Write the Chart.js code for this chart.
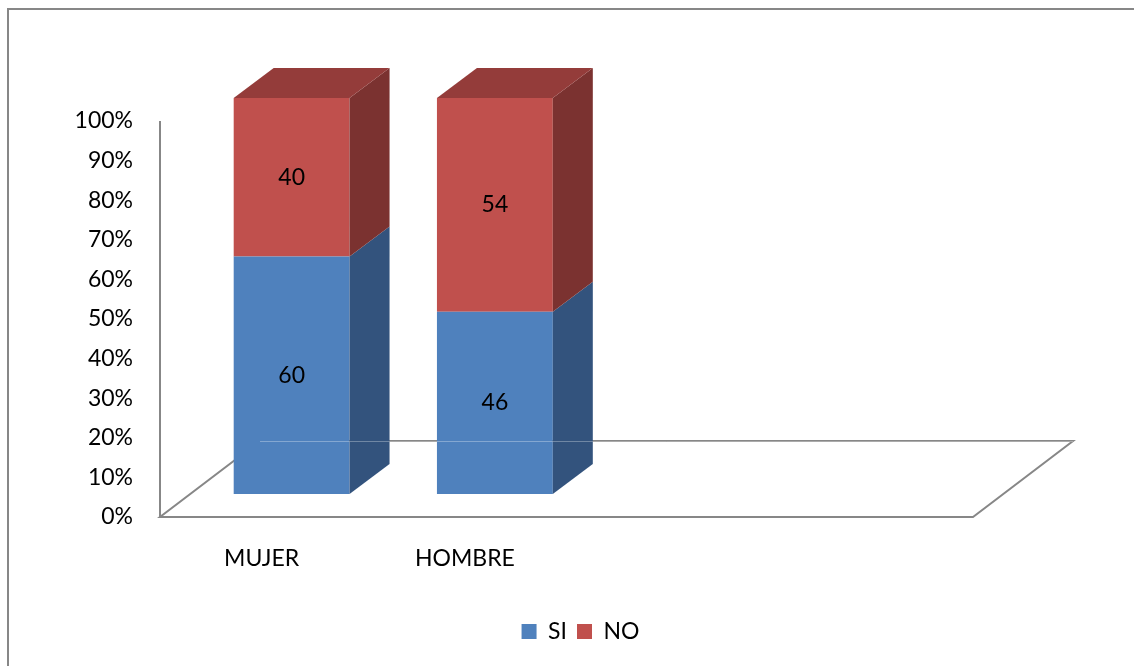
<!DOCTYPE html>
<html>
<head>
<meta charset="utf-8">
<script src="https://cdn.jsdelivr.net/npm/chart.js@4/dist/chart.umd.min.js"></script>
<style>
  body{margin:0;background:#fff;}
  #wrap{width:1134px;height:666px;}
</style>
</head>
<body>
<div id="wrap"><canvas id="chart" width="1134" height="666"></canvas></div>
<script>
'use strict';

// data
let categories=['MUJER','HOMBRE','',''];
let seriesNames=['SI','NO'];
let siValues=[60,46,null,null];
let noValues=[40,54,null,null];
let yTicks=[0,10,20,30,40,50,60,70,80,90,100];

let frontColors=['#4F81BD','#C0504D'];
let sideColors=['#33537D','#7B3230'];
let topColors=['#3E6696','#943C3A'];

// 3d look
let floorDepth={dx:100,dy:-76};
let barShift={dx:30,dy:-23};
let barDepth={dx:40,dy:-30};
let lineGray='#878787';
let legendShift=64;

let canvasElem=document.getElementById('chart');

let threeD={
    id:'threeD',
    afterLayout(chart){
        // legend sits a bit right of the plot centre in the original
        if(chart.legend){
            chart.legend.left+=legendShift;
            chart.legend.right+=legendShift;
        }
    },
    beforeDatasetsDraw(chart){
        let ctx=chart.ctx;
        let a=chart.chartArea;
        ctx.save();
        // outer frame
        ctx.strokeStyle=lineGray;
        ctx.lineWidth=2;
        ctx.beginPath();
        ctx.moveTo(8,666);
        ctx.lineTo(8,9);
        ctx.lineTo(1134,9);
        ctx.stroke();
        // floor
        ctx.beginPath();
        ctx.moveTo(a.left,a.bottom);
        ctx.lineTo(a.right,a.bottom);
        ctx.lineTo(a.right+floorDepth.dx,a.bottom+floorDepth.dy);
        ctx.lineTo(a.left+floorDepth.dx,a.bottom+floorDepth.dy);
        ctx.closePath();
        ctx.stroke();
        // value axis line
        let yScale=chart.scales.y;
        ctx.beginPath();
        ctx.moveTo(a.left,yScale.getPixelForValue(100));
        ctx.lineTo(a.left,a.bottom);
        ctx.stroke();
        ctx.restore();
        ctx.save();
        ctx.translate(barShift.dx,barShift.dy);
    },
    afterDatasetsDraw(chart){
        let ctx=chart.ctx;
        let n=chart.data.datasets.length;
        for(let d=0;d<n;d++){
            let meta=chart.getDatasetMeta(d);
            meta.data.forEach(function(bar,i){
                let v=chart.data.datasets[d].data[i];
                if(v===null)return;
                let p=bar.getProps(['x','y','base','width']);
                let l=p.x-p.width/2,r=p.x+p.width/2;
                ctx.fillStyle=sideColors[d];
                ctx.beginPath();
                ctx.moveTo(r,p.y);
                ctx.lineTo(r+barDepth.dx,p.y+barDepth.dy);
                ctx.lineTo(r+barDepth.dx,p.base+barDepth.dy);
                ctx.lineTo(r,p.base);
                ctx.closePath();
                ctx.fill();
                if(d===n-1){
                    ctx.fillStyle=topColors[d];
                    ctx.beginPath();
                    ctx.moveTo(l,p.y);
                    ctx.lineTo(l+barDepth.dx,p.y+barDepth.dy);
                    ctx.lineTo(r+barDepth.dx,p.y+barDepth.dy);
                    ctx.lineTo(r,p.y);
                    ctx.closePath();
                    ctx.fill();
                }
            });
        }
        // value labels
        ctx.fillStyle='#000';
        ctx.font='23px Lato';
        ctx.textAlign='center';
        ctx.textBaseline='middle';
        for(let d=0;d<n;d++){
            let meta=chart.getDatasetMeta(d);
            meta.data.forEach(function(bar,i){
                let v=chart.data.datasets[d].data[i];
                if(v===null)return;
                let p=bar.getProps(['x','y','base']);
                ctx.fillText(String(v),p.x,(p.y+p.base)/2);
            });
        }
        ctx.restore();
        // faint back edge of the floor seen through the bars
        let a=chart.chartArea;
        ctx.save();
        ctx.strokeStyle='rgba(255,255,255,0.3)';
        ctx.lineWidth=1;
        ctx.beginPath();
        ctx.moveTo(a.left+floorDepth.dx,a.bottom+floorDepth.dy+0.5);
        ctx.lineTo(a.right+floorDepth.dx,a.bottom+floorDepth.dy+0.5);
        ctx.stroke();
        ctx.restore();
    }
};

function renderChart(){
    Chart.defaults.font.family='Lato';
    Chart.defaults.font.size=23;
    Chart.defaults.color='#000';

    let chartObj={
        type:'bar',
        data:{
            labels:categories,
            datasets:[{
                label:seriesNames[0],
                data:siValues,
                backgroundColor:frontColors[0],
                borderWidth:0,
                categoryPercentage:1,
                barPercentage:0.57
            },
            {
                label:seriesNames[1],
                data:noValues,
                backgroundColor:frontColors[1],
                borderWidth:0,
                categoryPercentage:1,
                barPercentage:0.57
            }]
        },
        options:{
            responsive:false,
            animation:false,
            layout:{padding:{left:60,right:161,top:121,bottom:13}},
            scales:{
                x:{
                    stacked:true,
                    grid:{display:false,drawTicks:false},
                    border:{display:false},
                    ticks:{padding:28,maxRotation:0},
                    afterFit:function(s){s.height=93;}
                },
                y:{
                    stacked:true,
                    min:0,
                    max:100,
                    afterBuildTicks:function(s){s.ticks=yTicks.map(function(v){return {value:v};});},
                    grid:{display:false,drawTicks:false},
                    border:{display:false},
                    ticks:{padding:27,callback:function(v){return v+'%';}},
                    afterFit:function(s){s.width=100;}
                }
            },
            plugins:{
                legend:{
                    position:'bottom',
                    labels:{boxWidth:15,boxHeight:15,padding:10,color:'#000'}
                },
                tooltip:{enabled:false}
            }
        },
        plugins:[threeD]
    };
    new Chart(canvasElem,chartObj);
}

renderChart();
</script>
</body>
</html>
